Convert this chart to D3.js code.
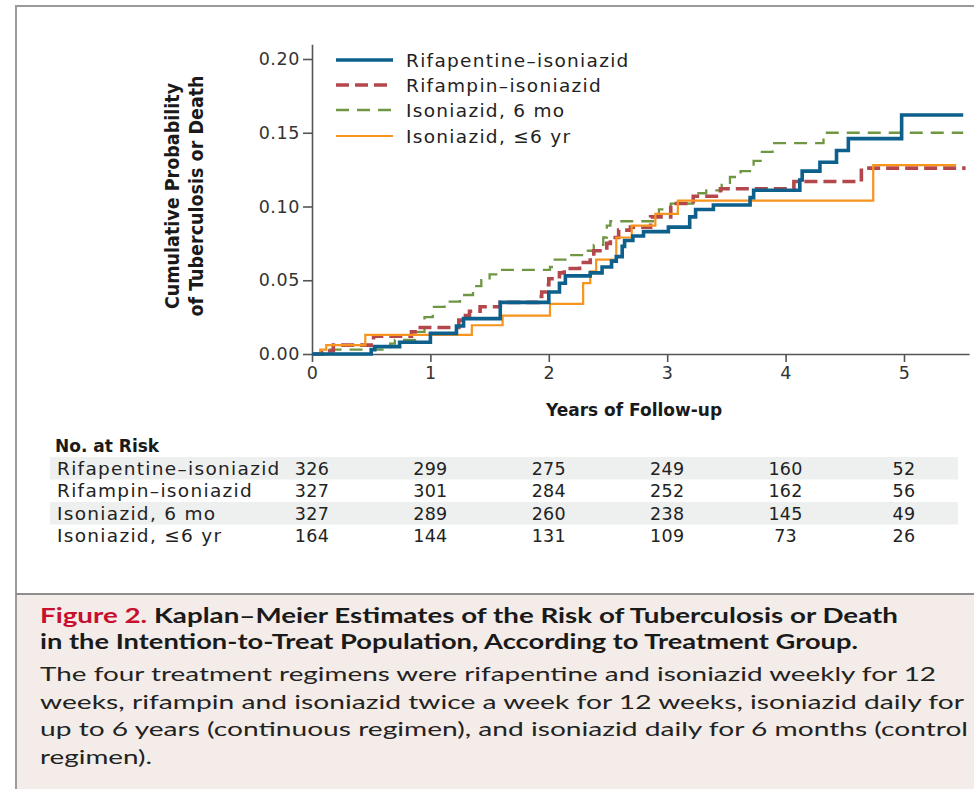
<!DOCTYPE html>
<html>
<head>
<meta charset="utf-8">
<script src="https://cdn.jsdelivr.net/npm/d3@7"></script>
<style>
  body { margin: 0; background: #fff; }
  svg { display: block; }
</style>
</head>
<body>
<svg id="chart" width="974" height="789"></svg>
<script>
"use strict";

// data
const years = [0, 1, 2, 3, 4, 5];
const yTicks = [0, 0.05, 0.10, 0.15, 0.20];
const groups = ["Rifapentine–isoniazid", "Rifampin–isoniazid", "Isoniazid, 6 mo", "Isoniazid, ≤6 yr"];

// [years, cumulative probability] at each step
const rifapentine = [[0,0],[0.50,0.003],[0.53,0.005],[0.74,0.008],[1.0,0.014],[1.22,0.019],[1.28,0.024],
  [1.59,0.035],[2.0,0.042],[2.09,0.048],[2.14,0.053],[2.35,0.055],[2.45,0.059],[2.53,0.063],[2.57,0.066],
  [2.62,0.073],[2.64,0.077],[2.71,0.080],[2.80,0.083],[3.01,0.086],[3.19,0.093],[3.24,0.098],[3.39,0.101],
  [3.70,0.106],[3.73,0.111],[4.12,0.118],[4.14,0.124],[4.29,0.130],[4.43,0.138],[4.53,0.146],[4.98,0.162],[5.50,0.162]];
const rifampin = [[0,0],[0.08,0.002],[0.18,0.006],[0.50,0.009],[0.52,0.012],[0.84,0.015],[0.87,0.018],
  [1.24,0.023],[1.28,0.026],[1.33,0.029],[1.42,0.032],[1.59,0.035],[1.91,0.039],[1.94,0.042],[1.98,0.047],
  [2.0,0.051],[2.09,0.055],[2.13,0.058],[2.26,0.062],[2.35,0.066],[2.38,0.070],[2.49,0.075],[2.52,0.079],
  [2.59,0.084],[2.69,0.086],[2.86,0.093],[3.03,0.102],[3.22,0.107],[3.45,0.112],[4.07,0.117],[4.64,0.126],[5.52,0.126]];
const isoniazid6mo = [[0,0],[0.15,0.003],[0.66,0.007],[0.70,0.0095],[0.87,0.015],[0.95,0.025],[1.02,0.032],
  [1.12,0.0355],[1.25,0.040],[1.36,0.046],[1.43,0.050],[1.50,0.054],[1.59,0.057],[2.01,0.059],[2.05,0.064],
  [2.18,0.067],[2.32,0.070],[2.38,0.074],[2.46,0.079],[2.49,0.087],[2.52,0.090],[2.88,0.094],[2.93,0.098],
  [3.03,0.102],[3.22,0.109],[3.33,0.111],[3.46,0.116],[3.53,0.120],[3.62,0.124],[3.73,0.131],[3.80,0.137],
  [3.89,0.143],[4.32,0.150],[5.50,0.150]];
const isoniazid6yr = [[0,0],[0.07,0.003],[0.12,0.006],[0.45,0.013],[1.35,0.0195],[1.61,0.026],[2.01,0.034],
  [2.29,0.048],[2.35,0.056],[2.40,0.064],[2.57,0.079],[2.70,0.087],[2.90,0.095],[3.09,0.104],[4.74,0.128],[5.44,0.128]];

// number at risk at each year
const riskRifapentine = [326, 299, 275, 249, 160, 52];
const riskRifampin = [327, 301, 284, 252, 162, 56];
const riskIso6mo = [327, 289, 260, 238, 145, 49];
const riskIso6yr = [164, 144, 131, 109, 73, 26];

const svg = d3.select("#chart");
const sans = "'DejaVu Sans', sans-serif";
const narrow = "'Liberation Sans Narrow', 'DejaVu Sans Condensed', sans-serif";
const humanist = "Lato, 'Open Sans', sans-serif";

// outer frame
svg.append("rect").attr("x", 16).attr("y", 6).attr("width", 1000).attr("height", 820)
  .attr("fill", "#fff").attr("stroke", "#9b9b9b").attr("stroke-width", 2);

const x = d3.scaleLinear().domain([0, 5.55]).range([312, 312 + 118.4 * 5.55]);
const y = d3.scaleLinear().domain([0, 0.21]).range([354, 44.25]);

// axes
const xAxis = svg.append("g").attr("transform", "translate(0,354)")
  .call(d3.axisBottom(x).tickValues(years).tickSize(8).tickSizeOuter(0).tickPadding(5).tickFormat(d3.format("d")));
const yAxis = svg.append("g").attr("transform", "translate(312,0)")
  .call(d3.axisLeft(y).tickValues(yTicks).tickSize(9).tickSizeOuter(0).tickPadding(3).tickFormat(d3.format(".2f")));
[xAxis, yAxis].forEach(g => {
  g.select(".domain").attr("stroke", "#555").attr("stroke-width", 1.6);
  g.selectAll(".tick line").attr("stroke", "#555").attr("stroke-width", 1.6);
  g.selectAll(".tick text").attr("fill", "#333").style("font-family", sans)
    .style("font-size", "17.5px").style("letter-spacing", "0.6px");
});

svg.append("text").attr("x", 634).attr("y", 416).attr("text-anchor", "middle")
  .style("font-family", sans).style("font-weight", "bold").style("font-size", "17px")
  .attr("fill", "#1a1a1a").text("Years of Follow-up");

const yTitle = svg.append("text").attr("transform", "translate(0,196) rotate(-90)")
  .attr("text-anchor", "middle").style("font-family", narrow).style("font-weight", "bold")
  .style("font-size", "19.5px").attr("fill", "#1a1a1a");
yTitle.append("tspan").attr("x", 0).attr("y", 179).text("Cumulative Probability");
yTitle.append("tspan").attr("x", 0).attr("y", 203).text("of Tuberculosis or Death");

// curves
const styles = [
  { data: isoniazid6mo, color: "#6f9643", width: 2.3, dash: "13,8", idx: 2 },
  { data: rifampin, color: "#b3474c", width: 3.6, dash: "13,6", idx: 1 },
  { data: isoniazid6yr, color: "#f7941e", width: 2.2, dash: null, idx: 3 },
  { data: rifapentine, color: "#0d5f8c", width: 3.6, dash: null, idx: 0 }
];
const line = d3.line().x(d => x(d[0])).y(d => y(d[1])).curve(d3.curveStepAfter);
styles.forEach(s => {
  svg.append("path").attr("d", line(s.data)).attr("fill", "none")
    .attr("stroke", s.color).attr("stroke-width", s.width)
    .attr("stroke-dasharray", s.dash);
});

// legend
const legendY = [60, 85, 110, 136];
const legend = svg.append("g");
styles.slice().sort((a, b) => a.idx - b.idx).forEach((s, i) => {
  legend.append("line").attr("x1", 336).attr("x2", 393).attr("y1", legendY[i]).attr("y2", legendY[i])
    .attr("stroke", s.color).attr("stroke-width", s.width).attr("stroke-dasharray", s.dash);
  legend.append("text").attr("x", 406).attr("y", legendY[i]).attr("dy", "0.36em")
    .style("font-family", sans).style("font-size", "18.5px").style("letter-spacing", "1.3px")
    .attr("fill", "#222").text(groups[i]);
});

// number at risk table
svg.append("text").attr("x", 55).attr("y", 452).style("font-family", sans).style("font-weight", "bold")
  .style("font-size", "17px").attr("fill", "#1a1a1a").text("No. at Risk");

const riskRows = [riskRifapentine, riskRifampin, riskIso6mo, riskIso6yr];
const rowY = d3.scaleBand().domain(d3.range(4)).range([457, 547]);
riskRows.forEach((row, i) => {
  if (i % 2 === 0) {
    svg.append("rect").attr("x", 50).attr("y", rowY(i)).attr("width", 908).attr("height", rowY.bandwidth())
      .attr("fill", "#eef0f0");
  }
  const cy = rowY(i) + rowY.bandwidth() / 2;
  svg.append("text").attr("x", 57).attr("y", cy).attr("dy", "0.36em")
    .style("font-family", sans).style("font-size", "18.5px").style("letter-spacing", "1.3px")
    .attr("fill", "#222").text(groups[i]);
  svg.selectAll(null).data(row).enter().append("text")
    .attr("x", (d, j) => x(years[j])).attr("y", cy).attr("dy", "0.36em").attr("text-anchor", "middle")
    .style("font-family", sans).style("font-size", "17.5px").style("letter-spacing", "0.3px")
    .attr("fill", "#222").text(d => d);
});

// caption box
svg.append("rect").attr("x", 17).attr("y", 594).attr("width", 970).attr("height", 200).attr("fill", "#f3ece8");
svg.append("line").attr("x1", 16).attr("x2", 974).attr("y1", 594).attr("y2", 594)
  .attr("stroke", "#8e8e8e").attr("stroke-width", 2);

function fit(sel, w) {
  sel.attr("textLength", w).attr("lengthAdjust", "spacingAndGlyphs");
}

const t1 = svg.append("text").attr("x", 40).attr("y", 623).style("font-family", humanist)
  .style("font-weight", "bold").style("font-size", "20px").attr("fill", "#1a1a1a");
t1.append("tspan").attr("fill", "#c8102e").text("Figure 2.");
t1.append("tspan").text(" Kaplan–Meier Estimates of the Risk of Tuberculosis or Death");
fit(t1, 858);
const t2 = svg.append("text").attr("x", 40).attr("y", 649).style("font-family", humanist)
  .style("font-weight", "bold").style("font-size", "20px").attr("fill", "#1a1a1a")
  .text("in the Intention-to-Treat Population, According to Treatment Group.");
fit(t2, 818);

const body = [
  ["The four treatment regimens were rifapentine and isoniazid weekly for 12", 896],
  ["weeks, rifampin and isoniazid twice a week for 12 weeks, isoniazid daily for", 924],
  ["up to 6 years (continuous regimen), and isoniazid daily for 6 months (control", 928],
  ["regimen).", 112]
];
body.forEach((b, i) => {
  const t = svg.append("text").attr("x", 40).attr("y", 681 + i * 27.7).style("font-family", humanist)
    .style("font-size", "20px").attr("fill", "#222").text(b[0]);
  fit(t, b[1]);
});
</script>
</body>
</html>
